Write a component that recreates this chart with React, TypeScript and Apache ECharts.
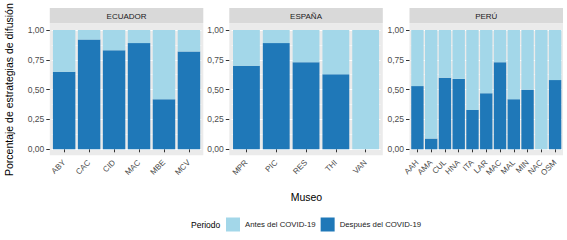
import React, { useEffect, useRef } from 'react';
import * as echarts from 'echarts';

const ecuCats = ['ABY', 'CAC', 'CID', 'MAC', 'MBE', 'MCV'];
const ecuDespues = [0.65, 0.92, 0.83, 0.89, 0.42, 0.82];
const ecuAntes = [0.35, 0.08, 0.17, 0.11, 0.58, 0.18];

const espCats = ['MPR', 'PIC', 'RES', 'THI', 'VAN'];
const espDespues = [0.7, 0.89, 0.73, 0.63, 0];
const espAntes = [0.3, 0.11, 0.27, 0.37, 1];

const perCats = ['AAH', 'AMA', 'CUL', 'HNA', 'ITA', 'LAR', 'MAC', 'MAL', 'MIN', 'NAC', 'OSM'];
const perDespues = [0.53, 0.09, 0.6, 0.59, 0.33, 0.47, 0.73, 0.42, 0.5, 0, 0.58];
const perAntes = [0.47, 0.91, 0.4, 0.41, 0.67, 0.53, 0.27, 0.58, 0.5, 1, 0.42];

const facetNames = ['ECUADOR', 'ESPAÑA', 'PERÚ'];
const yTickValues = [0, 0.25, 0.5, 0.75, 1];
const yTickLabels = ['0,00', '0,25', '0,50', '0,75', '1,00'];
const seriesNames = ['Antes del COVID-19', 'Después del COVID-19'];

const LIGHT = '#A3D7E9';
const DARK = '#1F78B8';
const FONT = '"Liberation Sans", Arial, sans-serif';

const panelLeft = [49.8, 229.3, 409.5];
const panelW = 153.5;
const panelTop = 24;
const panelBottom = 155.3;
const y1 = 30;
const y0 = 149.3;
const stripTop = 8;

export default function App() {
  const ref = useRef<HTMLDivElement>(null);
  useEffect(() => {
    const chart = echarts.init(ref.current!, null, { renderer: 'svg' });
    const panels = [
      { cats: ecuCats, despues: ecuDespues, antes: ecuAntes },
      { cats: espCats, despues: espDespues, antes: espAntes },
      { cats: perCats, despues: perDespues, antes: perAntes },
    ];
    const grids: any[] = [];
    const xAxes: any[] = [];
    const yAxes: any[] = [];
    const series: any[] = [];
    const graphics: any[] = [];
    panels.forEach((p, i) => {
      const n = p.cats.length;
      const unit = panelW / (n + 0.15);
      const inset = 0.075 * unit;
      grids.push({ left: panelLeft[i] + inset, width: n * unit, top: y1, height: y0 - y1 });
      xAxes.push({
        type: 'category',
        gridIndex: i,
        data: p.cats,
        offset: panelBottom - y0,
        axisLine: { show: false },
        axisTick: { show: true, alignWithLabel: true, length: 3, lineStyle: { color: '#333333' } },
        axisLabel: { rotate: 45, fontSize: 8, color: '#4D4D4D', margin: 6, interval: 0, fontFamily: FONT },
        splitLine: { show: false },
      });
      yAxes.push({
        type: 'value',
        gridIndex: i,
        min: 0,
        max: 1,
        interval: 0.25,
        offset: inset,
        axisLine: { show: false },
        axisTick: { show: true, length: 3.5, lineStyle: { color: '#333333' } },
        axisLabel: {
          fontSize: 8.5,
          color: '#4D4D4D',
          margin: 5.5,
          fontFamily: FONT,
          formatter: (v: number) => {
            const k = yTickValues.findIndex((t) => Math.abs(t - v) < 1e-6);
            return k >= 0 ? yTickLabels[k] : '';
          },
        },
        splitLine: { show: true, lineStyle: { color: '#FFFFFF', width: 1 } },
        minorTick: { show: false, splitNumber: 2 },
        minorSplitLine: { show: true, lineStyle: { color: '#FFFFFF', width: 0.5 } },
      });
      series.push({
        type: 'bar',
        name: seriesNames[1],
        xAxisIndex: i,
        yAxisIndex: i,
        stack: 's' + i,
        data: p.despues,
        barCategoryGap: '10%',
        itemStyle: { color: DARK },
      });
      series.push({
        type: 'bar',
        name: seriesNames[0],
        xAxisIndex: i,
        yAxisIndex: i,
        stack: 's' + i,
        data: p.antes,
        barCategoryGap: '10%',
        itemStyle: { color: LIGHT },
      });
      graphics.push({
        type: 'rect',
        z: -10,
        shape: { x: panelLeft[i], y: panelTop, width: panelW, height: panelBottom - panelTop },
        style: { fill: '#EBEBEB' },
      });
      graphics.push({
        type: 'rect',
        z: -10,
        shape: { x: panelLeft[i], y: stripTop, width: panelW, height: panelTop - stripTop - 0.5 },
        style: { fill: '#D9D9D9' },
      });
      graphics.push({
        type: 'text',
        x: panelLeft[i] + panelW / 2,
        y: (stripTop + panelTop) / 2,
        style: {
          text: facetNames[i],
          fontSize: 8,
          fontFamily: FONT,
          fill: '#1A1A1A',
          align: 'center',
          verticalAlign: 'middle',
        },
      });
    });
    graphics.push({
      type: 'text',
      x: 9,
      y: (panelTop + panelBottom) / 2,
      rotation: Math.PI / 2,
      style: {
        text: 'Porcentaje de estrategias de difusión',
        fontSize: 10.5,
        fontFamily: FONT,
        fill: '#000000',
        align: 'center',
        verticalAlign: 'middle',
      },
    });
    graphics.push({
      type: 'text',
      x: (panelLeft[0] + panelLeft[2] + panelW) / 2,
      y: 197,
      style: {
        text: 'Museo',
        fontSize: 10.5,
        fontFamily: FONT,
        fill: '#000000',
        align: 'center',
        verticalAlign: 'middle',
      },
    });
    graphics.push({
      type: 'text',
      x: 191,
      y: 224.5,
      style: {
        text: 'Periodo',
        fontSize: 8.5,
        fontFamily: FONT,
        fill: '#000000',
        align: 'left',
        verticalAlign: 'middle',
      },
    });
    chart.setOption({
      animation: false,
      backgroundColor: '#FFFFFF',
      grid: grids,
      xAxis: xAxes,
      yAxis: yAxes,
      series,
      graphic: graphics,
      legend: {
        data: seriesNames,
        left: 226,
        top: 217.5,
        itemWidth: 14,
        itemHeight: 14,
        itemGap: 5,
        icon: 'rect',
        padding: 0,
        selectedMode: false,
        textStyle: { fontSize: 7.8, color: '#1A1A1A', fontFamily: FONT },
      },
    });
    return () => chart.dispose();
  }, []);
  return (
    <div
      ref={ref}
      style={{ position: 'fixed', left: 0, top: 0, width: 567, height: 240 }}
    />
  );
}
